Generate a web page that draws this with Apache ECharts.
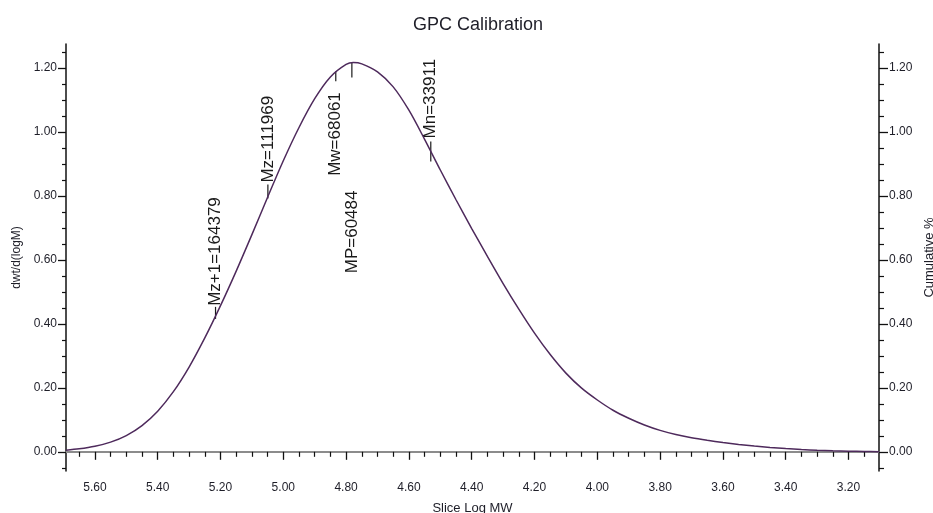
<!DOCTYPE html>
<html>
<head>
<meta charset="utf-8">
<script src="https://cdn.jsdelivr.net/npm/echarts@6/dist/echarts.min.js"></script>
<style>
html,body{margin:0;padding:0;background:#fff;}
#chart{width:933px;height:513px;}
</style>
</head>
<body>
<div id="chart"></div>
<script>
// ---- Data ----
var logMW = [5.692,5.65,5.60,5.55,5.50,5.45,5.40,5.35,5.30,5.25,5.20,5.15,5.10,5.05,5.00,4.95,4.90,4.85,4.80,4.777,4.75,4.70,4.65,4.60,4.55,4.50,4.45,4.40,4.35,4.30,4.25,4.20,4.15,4.10,4.05,4.00,3.95,3.90,3.85,3.80,3.75,3.70,3.65,3.60,3.55,3.50,3.45,3.40,3.35,3.30,3.25,3.20,3.15,3.103];
var dwdlogM = [0.005,0.0092,0.0172,0.0302,0.0507,0.082,0.127,0.188,0.265,0.356,0.457,0.565,0.679,0.796,0.910,1.014,1.104,1.172,1.211,1.217,1.213,1.188,1.141,1.068,0.977,0.881,0.788,0.698,0.611,0.526,0.446,0.371,0.304,0.246,0.199,0.162,0.130,0.105,0.084,0.067,0.054,0.044,0.036,0.029,0.023,0.018,0.0135,0.010,0.0072,0.005,0.0032,0.002,0.001,0.0005];

var annotNames  = ['Mz+1', 'Mz', 'Mw', 'MP', 'Mn'];
var annotMW     = [164379, 111969, 68061, 60484, 33911];
var annotHeight = [0.425, 0.798, 1.190, 1.217, 0.939];

var xTickLabels = [5.60, 5.40, 5.20, 5.00, 4.80, 4.60, 4.40, 4.20, 4.00, 3.80, 3.60, 3.40, 3.20];
var yTickLabels = [0.00, 0.20, 0.40, 0.60, 0.80, 1.00, 1.20];

// ---- Axis ranges / minor ticks ----
var X_MIN = 3.103, X_MAX = 5.692;
var Y_MIN = -0.060, Y_MAX = 1.275;
function minorTicks(lo, hi, step, majors) {
  var out = [];
  var start = Math.ceil(lo / step - 1e-9);
  var end = Math.floor(hi / step + 1e-9);
  for (var k = start; k <= end; k++) {
    var v = Math.round(k * step * 1000) / 1000;
    var isMajor = majors.some(function (m) { return Math.abs(m - v) < 1e-6; });
    if (!isMajor) out.push(v);
  }
  return out;
}
var xMinor = minorTicks(X_MIN, X_MAX, 0.05, xTickLabels);
var yMinor = minorTicks(Y_MIN, Y_MAX, 0.05, yTickLabels);

var FONT = 'Liberation Sans, Arial, sans-serif';
var TXT = '#1e1e28';

// per-annotation layout offsets (px, relative to the curve point)
var annotLayout = {
  'Mz+1': { t0: 3,  t1: -9,  a: -10, up: true },
  'Mz':   { t0: 2,  t1: -12, a: -14, up: true },
  'Mw':   { t0: 0,  t1: 10,  a: 21,  up: false },
  'MP':   { t0: 0,  t1: 15,  a: 128, up: false },
  'Mn':   { t0: 10, t1: -10, a: -13, up: true }
};

var curveData = logMW.map(function (x, i) { return [x, dwdlogM[i]]; });
var annotData = annotMW.map(function (m, i) { return [Math.log10(m), annotHeight[i], annotNames[i] + '=' + m]; });

var fmt2 = function (v) { return Number(v).toFixed(2); };

var chart = echarts.init(document.getElementById('chart'), null, { renderer: 'canvas' });
chart.setOption({
  animation: false,
  backgroundColor: '#ffffff',
  title: {
    text: 'GPC Calibration',
    left: 473, top: 11, textAlign: 'center',
    textStyle: { fontFamily: FONT, fontSize: 18, fontWeight: 'normal', color: TXT }
  },
  grid: { left: 66, right: 54, top: 44, bottom: 42, containLabel: false, outerBoundsMode: 'none' },
  xAxis: [
    {
      type: 'value', inverse: true, min: X_MIN, max: X_MAX, position: 'bottom',
      name: 'Slice Log MW', nameLocation: 'middle', nameGap: 31,
      nameTextStyle: { fontFamily: FONT, fontSize: 13, color: TXT },
      axisLine: { show: true, lineStyle: { color: '#111', width: 1.5 } },
      axisTick: { show: true, customValues: xTickLabels, length: 8, lineStyle: { color: '#111', width: 1.3 } },
      axisLabel: { show: true, customValues: xTickLabels, formatter: fmt2, margin: 11,
                   fontFamily: FONT, fontSize: 12, color: TXT },
      splitLine: { show: false }
    },
    {
      type: 'value', inverse: true, min: X_MIN, max: X_MAX, position: 'bottom',
      axisLine: { show: false },
      axisTick: { show: true, customValues: xMinor, length: 5, lineStyle: { color: '#111', width: 1.2 } },
      axisLabel: { show: false },
      splitLine: { show: false }
    },
    {
      type: 'value', inverse: true, min: X_MIN, max: X_MAX, position: 'top',
      axisLine: { show: true, lineStyle: { color: '#8c8c8c', width: 2 } },
      axisTick: { show: false }, axisLabel: { show: false }, splitLine: { show: false }
    }
  ],
  yAxis: [
    {
      type: 'value', min: Y_MIN, max: Y_MAX, position: 'left',
      name: 'dwt/d(logM)', nameLocation: 'middle', nameGap: 35, nameRotate: 90,
      nameTextStyle: { fontFamily: FONT, fontSize: 12, color: TXT },
      axisLine: { show: true, lineStyle: { color: '#111', width: 1.5 } },
      axisTick: { show: true, customValues: yTickLabels, length: 8, lineStyle: { color: '#111', width: 1.3 } },
      axisLabel: { show: true, customValues: yTickLabels, formatter: fmt2, margin: 9,
                   fontFamily: FONT, fontSize: 12, color: TXT },
      splitLine: { show: false }
    },
    {
      type: 'value', min: Y_MIN, max: Y_MAX, position: 'left',
      axisLine: { show: false },
      axisTick: { show: true, customValues: yMinor, length: 4, lineStyle: { color: '#111', width: 1.2 } },
      axisLabel: { show: false }, splitLine: { show: false }
    },
    {
      type: 'value', min: Y_MIN, max: Y_MAX, position: 'right',
      name: 'Cumulative %', nameLocation: 'middle', nameGap: 41, nameRotate: 90,
      nameTextStyle: { fontFamily: FONT, fontSize: 13, color: TXT },
      axisLine: { show: true, lineStyle: { color: '#111', width: 1.5 } },
      axisTick: { show: true, customValues: yTickLabels, length: 9, lineStyle: { color: '#111', width: 1.3 } },
      axisLabel: { show: true, customValues: yTickLabels, formatter: fmt2, margin: 10,
                   fontFamily: FONT, fontSize: 12, color: TXT },
      splitLine: { show: false }
    },
    {
      type: 'value', min: Y_MIN, max: Y_MAX, position: 'right',
      axisLine: { show: false },
      axisTick: { show: true, customValues: yMinor, length: 5, lineStyle: { color: '#111', width: 1.2 } },
      axisLabel: { show: false }, splitLine: { show: false }
    }
  ],
  series: [
    {
      type: 'line', xAxisIndex: 0, yAxisIndex: 0,
      data: curveData, showSymbol: false, smooth: 0.3,
      lineStyle: { color: '#4e2a5c', width: 1.5 },
      silent: true
    },
    {
      type: 'custom', xAxisIndex: 0, yAxisIndex: 0,
      data: annotData, silent: true,
      renderItem: function (params, api) {
        var p = api.coord([api.value(0), api.value(1)]);
        var item = annotData[params.dataIndex];
        var lay = annotLayout[annotNames[params.dataIndex]];
        return {
          type: 'group',
          children: [
            { type: 'line', shape: { x1: p[0], y1: p[1] + lay.t0, x2: p[0], y2: p[1] + lay.t1 },
              style: { stroke: '#1a1a1a', lineWidth: 1.2 } },
            { type: 'text', x: p[0], y: p[1] + lay.a, rotation: Math.PI / 2,
              style: { text: item[2], align: lay.up ? 'left' : 'right', verticalAlign: 'middle',
                       fontFamily: FONT, fontSize: 17, fill: '#1a1a1a' } }
          ]
        };
      }
    }
  ]
});
</script>
</body>
</html>
